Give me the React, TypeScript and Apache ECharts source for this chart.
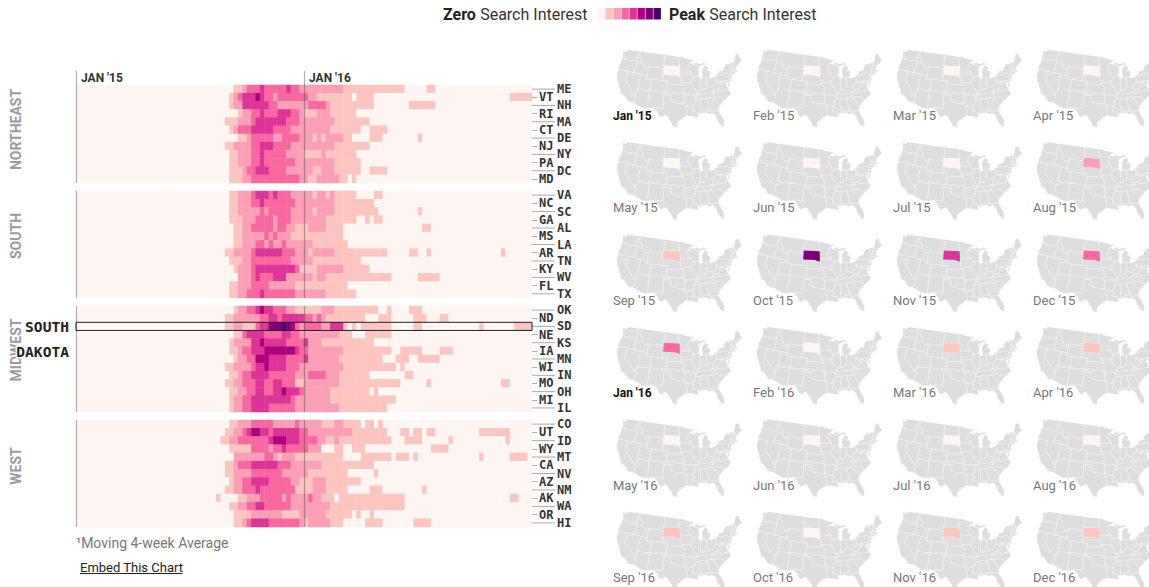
import React, { useEffect, useRef } from "react";
import * as echarts from "echarts";

const levelColors = ["#fff5f2", "#fcc5c0", "#fa9fb5", "#f768a1", "#dd3497", "#ae017e", "#7a0177", "#49006a"];
const weeks = Array.from({ length: 104 }, (_, i) => "w" + i);
const yearTicks = [0, 52];
const yearLabels = ["JAN '15", "JAN '16"];

const northeastStates = ["ME", "VT", "NH", "RI", "MA", "CT", "DE", "NJ", "NY", "PA", "DC", "MD"];
const southStates = ["VA", "NC", "SC", "GA", "AL", "MS", "LA", "AR", "TN", "KY", "WV", "FL", "TX"];
const midwestStates = ["OK", "ND", "SD", "NE", "KS", "IA", "MN", "WI", "IN", "MO", "OH", "MI", "IL"];
const westStates = ["CO", "UT", "ID", "WY", "MT", "CA", "NV", "AZ", "NM", "AK", "WA", "OR", "HI"];

// each row: [first week, level] change points
const northeastRuns = [
  [[36,1],[38,2],[39,3],[42,4],[43,3],[48,4],[49,3],[51,2],[61,1],[75,0],[80,1],[82,0]],
  [[35,1],[36,2],[37,3],[38,4],[41,5],[42,4],[43,3],[45,2],[46,3],[53,2],[55,1],[63,0],[64,1],[68,0],[99,1]],
  [[35,1],[36,2],[38,4],[44,3],[46,2],[53,3],[57,2],[58,1],[68,0],[76,1],[82,0]],
  [[37,1],[38,2],[40,3],[42,4],[43,3],[46,4],[49,3],[51,2],[52,1],[55,2],[58,1],[64,0]],
  [[34,1],[37,2],[40,3],[41,4],[48,3],[51,2],[59,1],[67,0]],
  [[35,1],[36,2],[37,3],[40,4],[45,3],[49,2],[58,1],[65,0],[67,1],[71,0]],
  [[37,1],[39,2],[40,3],[45,2],[47,3],[51,2],[54,1],[55,2],[56,1],[57,2],[61,1],[63,0],[67,1],[70,0],[78,1],[79,0]],
  [[34,1],[36,2],[40,3],[42,4],[45,3],[49,2],[59,1],[67,0]],
  [[35,1],[37,2],[40,3],[42,4],[43,3],[48,2],[52,1],[56,2],[57,1],[64,0]],
  [[35,1],[37,2],[40,3],[42,4],[43,3],[50,2],[59,1],[65,0]],
  [[35,1],[38,2],[39,3],[41,4],[44,3],[48,2],[54,1],[56,2],[59,1],[65,0],[67,1],[71,0]],
  [[35,1],[38,2],[40,3],[51,2],[53,1],[55,2],[60,1],[62,0],[63,1],[64,0]],
];
const southRuns = [
  [[35,1],[37,2],[40,3],[41,4],[44,3],[45,4],[46,3],[49,2],[54,1],[55,2],[57,1],[58,2],[59,1],[64,0],[68,1],[70,0]],
  [[35,1],[37,2],[40,3],[42,4],[43,3],[50,2],[59,1],[68,0]],
  [[35,1],[37,2],[42,3],[43,2],[44,3],[49,2],[54,1],[55,2],[59,1],[69,0],[78,1],[79,0]],
  [[35,1],[38,2],[41,3],[45,2],[46,3],[49,2],[57,1],[64,0],[66,1],[67,0],[68,1],[70,0]],
  [[36,1],[38,2],[40,3],[45,2],[46,3],[48,2],[50,1],[53,2],[57,1],[61,0],[79,1],[81,0]],
  [[36,1],[38,2],[43,3],[44,2],[45,3],[46,2],[49,1],[61,0]],
  [[36,1],[38,2],[41,3],[43,2],[44,3],[45,2],[47,3],[48,2],[54,1],[62,0]],
  [[34,1],[36,2],[40,3],[41,4],[47,3],[50,2],[53,1],[54,2],[59,1],[71,0],[76,1],[78,0],[80,1],[81,0],[97,1],[98,0]],
  [[35,1],[38,2],[40,3],[49,2],[54,1],[65,0]],
  [[36,1],[37,2],[40,3],[41,4],[50,3],[51,1],[55,2],[61,1],[67,0]],
  [[37,2],[40,3],[41,4],[42,3],[45,4],[48,2],[54,1],[55,2],[57,1],[72,0],[78,1],[83,0]],
  [[35,1],[37,2],[40,3],[44,2],[50,1],[62,0]],
  [[35,1],[37,2],[39,3],[42,4],[43,3],[50,2],[57,1],[64,0]],
];
const midwestRuns = [
  [[36,1],[37,2],[39,3],[41,4],[42,5],[43,4],[45,3],[48,2],[50,1],[56,2],[59,1],[69,0],[71,1],[72,0],[76,1],[79,0]],
  [[34,1],[36,2],[42,3],[44,4],[46,3],[47,4],[52,3],[54,2],[55,3],[56,2],[57,1],[66,0],[69,1],[72,0],[77,1],[80,0],[83,1],[85,0]],
  [[34,1],[36,2],[38,1],[41,3],[42,4],[44,6],[47,7],[48,6],[49,5],[50,3],[51,2],[52,3],[56,2],[58,4],[61,1],[62,0],[63,1],[64,0],[65,1],[72,0],[77,1],[79,0],[92,1],[93,0],[100,1]],
  [[36,1],[38,3],[39,4],[43,3],[47,4],[49,3],[51,2],[60,1],[63,0],[66,1],[72,0]],
  [[35,1],[36,2],[40,4],[42,5],[43,4],[48,3],[52,4],[53,2],[56,1],[68,0]],
  [[35,1],[37,2],[38,3],[40,4],[43,5],[50,4],[51,3],[53,2],[61,1],[72,0],[74,1],[79,0],[83,1],[86,0]],
  [[36,1],[37,2],[39,3],[41,5],[44,4],[48,3],[52,4],[53,2],[60,1],[70,0],[73,1],[76,0],[78,1],[83,0]],
  [[34,1],[36,2],[40,3],[41,4],[43,5],[44,4],[48,3],[51,2],[61,1],[73,0],[74,1],[75,0]],
  [[35,1],[37,2],[38,3],[40,4],[44,3],[50,2],[53,3],[57,2],[60,1],[67,0],[75,1],[77,0]],
  [[34,1],[36,2],[38,3],[41,4],[43,3],[45,4],[47,3],[50,1],[52,2],[60,1],[74,0],[80,1],[81,0],[97,1],[99,0]],
  [[35,1],[37,2],[39,3],[41,4],[43,3],[45,4],[47,5],[48,4],[51,3],[52,2],[58,1],[67,0],[68,1],[69,0]],
  [[35,1],[36,2],[38,3],[40,4],[49,3],[50,2],[58,1],[73,0]],
  [[35,1],[36,2],[38,3],[40,4],[44,3],[50,2],[60,1],[71,0]],
];
const westRuns = [
  [[35,1],[37,2],[40,3],[45,2],[50,3],[51,2],[56,1],[59,2],[61,1],[65,0],[66,1],[68,0],[69,1],[70,0]],
  [[34,1],[36,2],[38,3],[39,4],[40,5],[42,4],[44,3],[45,4],[51,3],[53,2],[63,1],[71,0],[74,1],[76,0],[77,1],[79,0],[80,1],[82,0],[92,1],[99,0]],
  [[33,1],[35,2],[37,3],[44,4],[45,5],[48,4],[51,3],[55,2],[57,1],[59,2],[60,1],[72,0],[75,1],[79,0],[85,1],[86,0],[98,1],[99,0]],
  [[35,1],[40,3],[44,2],[45,3],[47,4],[48,3],[53,2],[56,0],[59,1],[61,0],[63,1],[66,0],[81,1],[85,0]],
  [[36,2],[43,3],[45,2],[46,1],[47,2],[50,1],[61,0],[65,1],[72,0],[73,1],[76,0],[77,1],[78,0],[92,1],[93,0],[99,1],[103,0]],
  [[34,1],[36,2],[37,3],[40,4],[46,3],[49,2],[56,1],[68,0]],
  [[34,1],[36,2],[40,3],[47,2],[53,1],[62,0],[68,1],[69,0]],
  [[35,1],[36,2],[38,3],[40,4],[44,3],[49,2],[51,1],[54,2],[57,1],[65,0]],
  [[34,1],[36,2],[38,3],[41,4],[42,3],[50,1],[54,2],[57,1],[62,0],[67,1],[70,0],[79,1],[80,0]],
  [[32,1],[33,0],[37,1],[39,2],[42,3],[47,2],[48,3],[49,2],[53,3],[54,2],[56,1],[59,0],[60,1],[75,0],[99,1],[101,0]],
  [[35,1],[37,2],[39,3],[41,4],[43,3],[49,2],[58,1],[75,0]],
  [[36,1],[40,2],[47,1],[51,2],[57,1],[63,0],[64,1],[65,0],[67,1],[68,0]],
  [[36,1],[38,2],[39,3],[40,4],[44,3],[51,2],[52,1],[53,2],[58,1],[61,0],[66,1],[70,0],[77,1],[81,0]],
];

const monthLabels = [
  "Jan '15","Feb '15","Mar '15","Apr '15","May '15","Jun '15","Jul '15","Aug '15",
  "Sep '15","Oct '15","Nov '15","Dec '15","Jan '16","Feb '16","Mar '16","Apr '16",
  "May '16","Jun '16","Jul '16","Aug '16","Sep '16","Oct '16","Nov '16","Dec '16",
];
const southDakotaLevels = [0,0,0,0,0,0,0,2,1,6,4,3,3,0,1,1,0,0,0,0,1,0,1,1];

const usOutline = [
  [-124.7,48.4],[-123,48.2],[-122.8,49],[-95.15,49],[-95.15,49.4],[-94.8,49.3],[-94.6,48.7],[-93.5,48.6],[-92.5,48.4],[-91.5,48.1],[-90,48.1],[-89.5,48],
  [-90.8,47.3],[-92.1,46.75],[-90.9,46.9],[-90.4,46.55],[-89,46.9],[-88.4,47.4],[-87.9,47.45],[-88.4,46.9],[-87.4,46.5],[-85,46.7],[-84.4,46.5],[-84,46],
  [-84.7,45.95],[-86,45.95],[-87,45.7],[-87.6,45.1],[-88,44.55],[-87.3,45],[-87.5,44.3],[-87.9,43],[-87.8,42.3],[-87.5,41.7],[-86.8,41.75],[-86.3,42.4],
  [-86.5,43.6],[-86.2,44.7],[-85.5,45],[-85,45.7],[-84.7,45.75],[-83.5,45.3],[-83.3,44.8],[-83.9,43.9],[-83,44.05],[-82.5,43],[-83.1,42.2],[-83.4,41.7],
  [-82.5,41.4],[-81.7,41.5],[-80.5,42],[-79,42.7],[-78.9,43],[-79.05,43.27],[-77.5,43.25],[-76.3,43.5],[-76.3,44.1],[-75,45],[-71.5,45],[-71.3,45.3],
  [-70.8,45.4],[-70.3,46.2],[-70,46.7],[-69.2,47.45],[-68.3,47.35],[-67.8,47.05],[-67.8,45.7],[-67,44.85],[-68.5,44.3],[-70,43.75],[-70.7,43.05],[-70.8,42.6],
  [-71,42.3],[-70.6,41.95],[-70,41.75],[-71.2,41.5],[-72,41.3],[-73.6,41],[-72,41.05],[-73.8,40.6],[-74,40.4],[-74.1,39.7],[-74.9,38.95],[-75.5,39.5],[-75.1,38.75],
  [-75.2,38],[-75.9,37.2],[-76.1,38.8],[-76.4,39.2],[-76.4,38],[-76.3,37],[-76,36.9],[-75.5,35.3],[-76.5,34.7],[-77.9,33.9],[-79,33.4],[-80.8,32.1],[-81.4,31],
  [-81.3,29.9],[-80.6,28.4],[-80.05,26.9],[-80.3,25.4],[-81.1,25.15],[-81.8,26],[-82.7,27.8],[-82.8,28.9],[-83.7,29.9],[-84.3,30.05],[-85.3,29.7],[-86.3,30.4],
  [-88,30.25],[-89.3,30.3],[-89.5,30.1],[-89.2,29.1],[-90.2,29.1],[-91.3,29.4],[-92.2,29.55],[-93.8,29.7],[-94.7,29.4],[-95.9,28.6],[-97.2,27.7],[-97.4,26.9],
  [-97.15,25.95],[-98.1,26.05],[-99.1,26.4],[-99.5,27.5],[-100.4,28.5],[-101.4,29.77],[-102.4,29.8],[-103.1,29],[-104.4,29.5],[-105,30.7],[-106.5,31.75],[-108.2,31.78],
  [-108.2,31.33],[-111.07,31.33],[-114.8,32.5],[-117.12,32.53],[-117.3,33],[-118.4,33.75],[-118.5,34.03],[-119.2,34.15],[-120.6,34.55],[-120.65,35.15],[-121.9,36.6],
  [-122,36.95],[-122.5,37.75],[-123,38],[-123.8,39.3],[-124.35,40.3],[-124.1,41],[-124.2,42],[-124.5,42.85],[-124.1,44],[-123.95,46.2],[-124.1,46.9],[-124.7,48.4],
];
const southDakotaOutline = [[-104.05,45.94],[-96.56,45.94],[-96.45,43.5],[-96.45,42.5],[-97.9,42.8],[-98.5,43],[-104.05,43],[-104.05,45.94]];
const stateBorders = [
  [[-124,46.25],[-123.2,46.15],[-122.8,45.65],[-121.2,45.65],[-119.3,45.93],[-116.92,46]],
  [[-117.03,49],[-117.04,46.4],[-116.92,46],[-116.5,45.5],[-116.9,44.2],[-117.03,43.8],[-117.03,42]],
  [[-124.2,42],[-111.05,42]],
  [[-120,42],[-120,39],[-114.63,35],[-114.14,34.3],[-114.5,33.5],[-114.72,32.72]],
  [[-114.04,42],[-114.04,36.2],[-114.75,36.1],[-114.63,35]],
  [[-116.05,49],[-116.05,48],[-115.7,47.45],[-114.35,46.65],[-114.5,45.55],[-113.9,45.6],[-113.45,44.95],[-113,44.45],[-111.05,44.48]],
  [[-111.05,45],[-104.05,45]],
  [[-111.05,45],[-111.05,41],[-102.05,41],[-102.05,37]],
  [[-104.05,49],[-104.05,41]],
  [[-104.05,45.94],[-96.56,45.94]],
  [[-104.05,43],[-98.5,43],[-97.9,42.8],[-96.45,42.5],[-96,41.5],[-95.77,40.58],[-95.3,40],[-94.62,39.1],[-94.62,36.5],[-94.45,35.4],[-94.5,33.65]],
  [[-102.05,40],[-95.3,40]],
  [[-109.05,41],[-109.05,31.33]],
  [[-114.04,37],[-94.62,37]],
  [[-103,37],[-103,36.5],[-100,36.5],[-100,34.56],[-99.2,34.3],[-98,34.1],[-97.1,33.75],[-96,33.85],[-94.5,33.65],[-94.04,33.55],[-94.04,32],[-93.5,31],[-93.8,29.7]],
  [[-103,36.5],[-103.05,32],[-106.6,32],[-106.5,31.75]],
  [[-94.04,33],[-91.17,33]],
  [[-94.62,36.5],[-90.15,36.5],[-90.37,36],[-89.7,36]],
  [[-95.77,40.58],[-91.73,40.6],[-91.42,40.38]],
  [[-96.45,43.5],[-91.22,43.5]],
  [[-97.2,49],[-96.56,45.94],[-96.45,43.5],[-96.45,42.5]],
  [[-92.1,46.75],[-92.3,46.1],[-92.8,45.6],[-92.75,44.75],[-91.22,43.5],[-91.1,42.7],[-90.65,42.5],[-90.2,41.8],[-91.1,41.2],[-91.42,40.38],[-91.5,40],[-90.7,39],[-90.2,38.7],[-89.5,37.3],[-89.15,37],[-89.5,36.5],[-89.7,36],[-90.1,35.1],[-91.17,33],[-91,32.3],[-91.6,31],[-89.75,31],[-89.6,30.2]],
  [[-90.4,46.55],[-88.1,45.9],[-87.6,45.1]],
  [[-90.65,42.5],[-87.8,42.5]],
  [[-87.53,41.7],[-87.53,39.3],[-87.9,38.2],[-88.05,37.8]],
  [[-89.15,37],[-88.05,37.8],[-87,37.9],[-86,38],[-85.4,38.7],[-84.8,39.1],[-84,38.8],[-82.6,38.4],[-82,39],[-80.85,39.7],[-80.52,40.64]],
  [[-84.8,41.7],[-84.8,39.1]],
  [[-86.8,41.76],[-83.4,41.72]],
  [[-80.52,42],[-80.52,39.72],[-75.8,39.72]],
  [[-79.48,39.72],[-79.48,39.2],[-78,39.6],[-77.7,39.3],[-77,38.9],[-76.3,38]],
  [[-82.6,38.4],[-82,37.55],[-81.3,37.3],[-80.3,37.5],[-79.3,38.4],[-78.35,39.4],[-77.8,39.1]],
  [[-82,37.55],[-83.68,36.6]],
  [[-89.5,36.5],[-75.9,36.55]],
  [[-81.68,36.6],[-84.3,35]],
  [[-90.1,35],[-83.1,35],[-81,32.1]],
  [[-83.1,35],[-81,35.15],[-79.7,34.8],[-78.55,33.85]],
  [[-88.2,35],[-88.45,31.9],[-88.4,30.3]],
  [[-85.6,35],[-85.1,32.5],[-85,31],[-84.9,30.7],[-82.2,30.55],[-81.5,30.75]],
  [[-87.5,30.3],[-87.6,31],[-85,31]],
  [[-79.76,42.27],[-79.76,42],[-75.35,42],[-74.7,41.35],[-73.9,41]],
  [[-74.7,41.35],[-75.1,40.9],[-74.75,40.2],[-75.5,39.6]],
  [[-75.8,39.72],[-75.7,38.45],[-75.05,38.45]],
  [[-73.65,41],[-73.5,42.05],[-73.25,42.75],[-73.35,45]],
  [[-73.5,42.05],[-71.38,42.02],[-71.15,41.5]],
  [[-71.8,42.02],[-71.85,41.32]],
  [[-73.25,42.75],[-71.3,42.7],[-70.8,42.87]],
  [[-72.45,42.73],[-72.05,44.2],[-71.5,45]],
  [[-71.05,45.3],[-70.7,43.05]],
];

// ECharts merges map series that share one map name, so each month has its own
monthLabels.forEach((_, i) => {
  echarts.registerMap("usa" + i, {
    type: "FeatureCollection",
    features: [
      { type: "Feature", properties: { name: "US" }, geometry: { type: "Polygon", coordinates: [usOutline] } },
      { type: "Feature", properties: { name: "Borders" }, geometry: { type: "MultiLineString", coordinates: stateBorders } },
      { type: "Feature", properties: { name: "SD" }, geometry: { type: "Polygon", coordinates: [southDakotaOutline] } },
    ],
  } as any);
});

const rad = Math.PI / 180;
const p1 = 29.5 * rad, p2 = 45.5 * rad, p0 = 37.5 * rad, l0 = -96 * rad;
const n = (Math.sin(p1) + Math.sin(p2)) / 2;
const C = Math.cos(p1) ** 2 + 2 * n * Math.sin(p1);
const r0 = Math.sqrt(C - 2 * n * Math.sin(p0)) / n;
const albers = {
  project: ([lon, lat]: number[]) => {
    const t = n * (lon * rad - l0);
    const r = Math.sqrt(C - 2 * n * Math.sin(lat * rad)) / n;
    return [r * Math.sin(t), -(r0 - r * Math.cos(t))];
  },
  unproject: ([x, y]: number[]) => {
    const yy = r0 + y;
    const r = Math.sqrt(x * x + yy * yy);
    const t = Math.atan2(x, yy);
    return [(l0 + t / n) / rad, Math.asin((C - (r * n) ** 2) / (2 * n)) / rad];
  },
};

const panels = [
  { name: "NORTHEAST", states: northeastStates, runs: northeastRuns, top: 85, height: 98, labelY: 129.5 },
  { name: "SOUTH", states: southStates, runs: southRuns, top: 191, height: 107, labelY: 236 },
  { name: "MIDWEST", states: midwestStates, runs: midwestRuns, top: 306, height: 106, labelY: 350 },
  { name: "WEST", states: westStates, runs: westRuns, top: 420, height: 107, labelY: 466 },
];

function expand(states: string[], runs: number[][][]) {
  const out: number[][] = [];
  states.forEach((_, row) => {
    const changes = runs[row];
    let level = 0, c = 0;
    for (let w = 0; w < weeks.length; w++) {
      while (c < changes.length && changes[c][0] <= w) { level = changes[c][1]; c++; }
      out.push([w, row, level]);
    }
  });
  return out;
}

const UI = "Roboto, sans-serif";
const MONO = "'DejaVu Sans Mono', monospace";

function buildOption() {
  const grid: any[] = [], xAxis: any[] = [], yAxis: any[] = [], series: any[] = [];
  panels.forEach((p, i) => {
    grid.push({ left: 76, top: p.top, width: 456, height: p.height });
    xAxis.push({ gridIndex: i, type: "category", data: weeks, show: false });
    xAxis.push({
      gridIndex: i, type: "value", min: 0, max: 104, interval: 52, position: "top", z: 10,
      offset: i === 0 ? 14 : 0,
      axisLine: { show: false }, splitLine: { show: false },
      axisTick: {
        show: true, inside: true, length: i === 0 ? p.height + 14 : p.height, customValues: yearTicks,
        lineStyle: { color: "rgba(70,70,70,0.42)", width: 1.2 },
      },
      axisLabel: i === 0 ? {
        show: true, inside: true, margin: 1, customValues: yearTicks, align: "left", verticalAlign: "top",
        padding: [0, 0, 0, 5], color: "#333", fontFamily: UI, fontWeight: 700, fontSize: 12,
        formatter: (v: number) => yearLabels[yearTicks.indexOf(v)],
      } : { show: false },
    });
    [0, 1].forEach((odd) => {
      yAxis.push({
        gridIndex: i, type: "category", data: p.states, inverse: true, position: "right",
        axisLine: { show: false }, splitLine: { show: false },
        axisTick: {
          show: !!odd, alignWithLabel: true, length: 5, interval: (idx: number) => idx % 2 === odd,
          lineStyle: { color: "#aaa", width: 1 },
        },
        axisLabel: {
          show: true, interval: (idx: number) => idx % 2 === odd, margin: odd ? 7 : 25, padding: [4, 0, 0, 0],
          color: "#333", fontFamily: MONO, fontWeight: 700, fontSize: 12,
        },
      });
    });
    series.push({
      type: "heatmap", xAxisIndex: 2 * i, yAxisIndex: 2 * i, data: expand(p.states, p.runs), silent: true,
      emphasis: { disabled: true }, progressive: 0,
    });
  });
  // long tick marks for the outer column of state labels
  panels.forEach((p, i) => {
    series.push({
      type: "custom", xAxisIndex: 2 * i, yAxisIndex: 2 * i, silent: true, clip: false, z: 6,
      data: p.states.map((_, row) => [0, row]).filter((d) => d[1] % 2 === 0),
      renderItem: (params: any, api: any) => {
        const pt = api.coord([api.value(0), api.value(1)]);
        const right = params.coordSys.x + params.coordSys.width;
        return {
          type: "line",
          shape: { x1: right, y1: pt[1], x2: right + 23, y2: pt[1] },
          style: { stroke: "#aaa", lineWidth: 1, fill: "none" },
        };
      },
    });
  });
  series.push({
    type: "custom", xAxisIndex: 4, yAxisIndex: 4, data: [[0, midwestStates.indexOf("SD")]], silent: true, z: 20, clip: false,
    renderItem: (params: any, api: any) => {
      const pt = api.coord([api.value(0), api.value(1)]);
      const size = api.size([1, 1]);
      const cs = params.coordSys;
      return {
        type: "rect",
        shape: { x: cs.x, y: pt[1] - size[1] / 2, width: cs.width, height: size[1] },
        style: { fill: "none", stroke: "#222", lineWidth: 1 },
      };
    },
  });
  monthLabels.forEach((m, i) => {
    const col = i % 4, row = Math.floor(i / 4);
    series.push({
      type: "map", map: "usa" + i, projection: albers, silent: true, selectedMode: false, roam: false,
      left: 616.5 + 140 * col, top: 49.5 + 92.4 * row, width: 126, height: 78,
      label: { show: false }, emphasis: { disabled: true },
      itemStyle: { areaColor: "#dedede", borderColor: "#fff", borderWidth: 0.45 },
      data: [{ name: "SD", value: southDakotaLevels[i], itemStyle: { areaColor: levelColors[southDakotaLevels[i]], borderWidth: 0 } }],
    });
  });

  const graphic: any[] = [];
  const legendRich = { b: { font: `700 16px ${UI}`, fill: "#222" }, r: { font: `400 16px ${UI}`, fill: "#333", padding: [0, 0, 0, 1] } };
  graphic.push({ type: "text", x: 443, y: 14, style: { text: "{b|Zero} {r|Search Interest}", verticalAlign: "middle", rich: legendRich } });
  graphic.push({ type: "text", x: 669, y: 14, style: { text: "{b|Peak} {r|Search Interest}", verticalAlign: "middle", rich: legendRich } });
  levelColors.forEach((c, i) => {
    graphic.push({ type: "rect", shape: { x: 597.5 + i * 8, y: 8, width: 7.4, height: 11.5 }, style: { fill: c }, z: 5 });
  });
  panels.forEach((p) => {
    graphic.push({
      type: "text", x: 16, y: p.labelY, rotation: Math.PI / 2, z: 1,
      style: { text: p.name, font: `700 14px ${UI}`, fill: "#9a9aa2", align: "center", verticalAlign: "middle" },
    });
  });
  ["SOUTH", "DAKOTA"].forEach((t, i) => {
    graphic.push({
      type: "text", x: 69, y: 326 + i * 25, z: 30,
      style: { text: t, font: `700 14.6px ${MONO}`, fill: "#222", align: "right", verticalAlign: "middle", stroke: "#fff", lineWidth: 3 },
    });
  });
  graphic.push({ type: "text", x: 76, y: 543, style: { text: "¹Moving 4-week Average", font: `400 14px ${UI}`, fill: "#777", verticalAlign: "middle" } });
  graphic.push({ type: "text", x: 80, y: 567, style: { text: "Embed This Chart", font: `400 13px ${UI}`, fill: "#222", verticalAlign: "middle" } });
  graphic.push({ type: "line", shape: { x1: 80, y1: 573.5, x2: 182.5, y2: 573.5 }, style: { stroke: "#222", lineWidth: 1 } });
  monthLabels.forEach((m, i) => {
    const col = i % 4, row = Math.floor(i / 4);
    const bold = m.startsWith("Jan");
    graphic.push({
      type: "text", x: 613 + 140 * col, y: 115.5 + 92.4 * row, z: 30,
      style: { text: m, font: `${bold ? 700 : 400} ${bold ? 12 : 13}px ${UI}`, fill: bold ? "#111" : "#777", verticalAlign: "middle" },
    });
  });

  return {
    animation: false,
    backgroundColor: "#fff",
    visualMap: {
      show: false, type: "piecewise", dimension: 2, seriesIndex: [0, 1, 2, 3],
      pieces: levelColors.map((color, value) => ({ value, color })),
    },
    grid, xAxis, yAxis, series, graphic,
  };
}

export default function App() {
  const ref = useRef<HTMLDivElement>(null);
  useEffect(() => {
    document.body.style.margin = "0";
    const chart = echarts.init(ref.current!, undefined, { renderer: "svg" });
    chart.setOption(buildOption() as any);
    return () => chart.dispose();
  }, []);
  return <div ref={ref} style={{ width: 1149, height: 587, overflow: "hidden" }} />;
}
